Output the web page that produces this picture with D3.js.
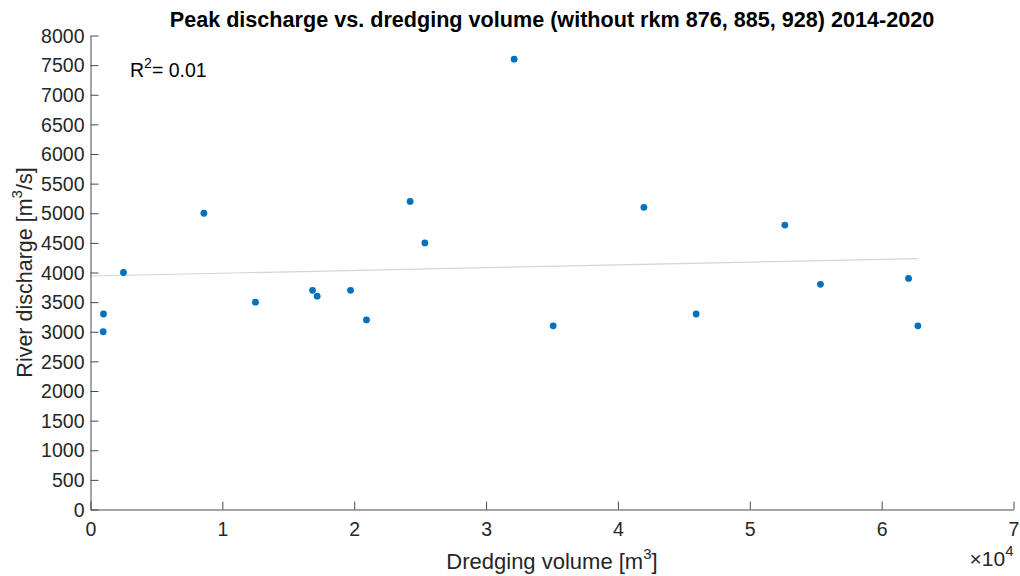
<!DOCTYPE html>
<html>
<head>
<meta charset="utf-8">
<script src="https://cdn.jsdelivr.net/npm/d3@7"></script>
<style>
  html, body { margin: 0; padding: 0; background: #fff; }
  svg { display: block; font-family: "Liberation Sans", Arial, Helvetica, sans-serif; }
</style>
</head>
<body>
<svg id="chart" width="1020" height="576"></svg>
<script>
// Dredging volume (m³) and peak river discharge (m³/s), 2014-2020
const dredgingVolume = [986, 960, 2500, 8600, 12510, 16840, 17190, 19720, 20930,
  24240, 25360, 32130, 35090, 41970, 45930, 52660, 55360, 62040, 62750];
const peakDischarge = [3300, 3000, 4000, 5000, 3500, 3700, 3600, 3700, 3200,
  5200, 4500, 7600, 3100, 5100, 3300, 4800, 3800, 3900, 3100];

const xTicks = [0, 1, 2, 3, 4, 5, 6, 7];          // ×10^4
const yTicks = d3.range(0, 8001, 500);
const rSquaredLabel = "0.01";

const titleText = "Peak discharge vs. dredging volume (without rkm 876, 885, 928) 2014-2020";

const svg = d3.select("#chart");
const plotLeft = 90.5, plotRight = 1013.5, plotTop = 35.5, plotBottom = 509.5;
const axisColor = "#4a4a4a", textColor = "#262626";

const x = d3.scaleLinear().domain([0, 70000]).range([plotLeft, plotRight]);
const y = d3.scaleLinear().domain([0, 8000]).range([plotBottom, plotTop]);

// least-squares fit of discharge against dredging volume
const mx = d3.mean(dredgingVolume), my = d3.mean(peakDischarge);
let sxy = 0, sxx = 0;
dredgingVolume.forEach((v, i) => { sxy += (v - mx) * (peakDischarge[i] - my); sxx += (v - mx) ** 2; });
const slope = sxy / sxx, intercept = my - slope * mx;
const fitX = [0, d3.max(dredgingVolume)];

svg.append("line")
  .attr("x1", x(fitX[0])).attr("y1", y(intercept + slope * fitX[0]))
  .attr("x2", x(fitX[1])).attr("y2", y(intercept + slope * fitX[1]))
  .attr("stroke", "#d4d4d4").attr("stroke-width", 1.2);

// axes: ticks point inwards, labels outside
const xAxis = d3.axisBottom(x)
  .tickValues(xTicks.map(t => t * 10000))
  .tickFormat(d => d / 10000)
  .tickSizeInner(-8).tickSizeOuter(0).tickPadding(13);
const gx = svg.append("g").attr("transform", `translate(0,${plotBottom})`).call(xAxis);

const yAxis = d3.axisLeft(y)
  .tickValues(yTicks)
  .tickFormat(d3.format("d"))
  .tickSizeInner(-8).tickSizeOuter(0).tickPadding(6);
const gy = svg.append("g").attr("transform", `translate(${plotLeft},0)`).call(yAxis);

[gx, gy].forEach(g => {
  g.select(".domain").attr("stroke", axisColor).attr("stroke-width", 1);
  g.selectAll(".tick line").attr("stroke", axisColor).attr("stroke-width", 1);
  g.selectAll(".tick text").attr("fill", textColor)
    .style("font-size", "19.5px").style("font-family", "Liberation Sans, Arial, sans-serif");
});
gy.selectAll(".tick text").attr("dy", "0.34em");

// data points
svg.append("g").selectAll("circle")
  .data(dredgingVolume.map((v, i) => [v, peakDischarge[i]]))
  .join("circle")
  .attr("cx", d => x(d[0]))
  .attr("cy", d => y(d[1]))
  .attr("r", 3.4)
  .attr("fill", "#0072BD");

// title
svg.append("text")
  .attr("x", (plotLeft + plotRight) / 2).attr("y", 27)
  .attr("text-anchor", "middle")
  .attr("fill", "#000")
  .style("font-size", "21.6px").style("font-weight", "bold")
  .text(titleText);

// x label
const xl = svg.append("text")
  .attr("x", (plotLeft + plotRight) / 2).attr("y", 569)
  .attr("text-anchor", "middle")
  .attr("fill", textColor)
  .style("font-size", "22px");
xl.append("tspan").text("Dredging volume [m");
xl.append("tspan").attr("dy", -10).style("font-size", "15px").text("3");
xl.append("tspan").attr("dy", 10).text("]");

// exponent marker for x ticks
const ex = svg.append("text")
  .attr("x", plotRight).attr("y", 566)
  .attr("text-anchor", "end")
  .attr("fill", textColor)
  .style("font-size", "21px");
ex.append("tspan").text("\u00d710");
ex.append("tspan").attr("dy", -10).style("font-size", "15px").text("4");

// y label
const yl = svg.append("text")
  .attr("transform", `translate(32,${(plotTop + plotBottom) / 2}) rotate(-90)`)
  .attr("text-anchor", "middle")
  .attr("fill", textColor)
  .style("font-size", "21.5px");
yl.append("tspan").text("River discharge [m");
yl.append("tspan").attr("dy", -10).style("font-size", "15px").text("3");
yl.append("tspan").attr("dy", 10).text("/s]");

// R² annotation
const rt = svg.append("text")
  .attr("x", 130).attr("y", 77)
  .attr("fill", "#000")
  .style("font-size", "19.5px");
rt.append("tspan").text("R");
rt.append("tspan").attr("dy", -9).style("font-size", "14px").text("2");
rt.append("tspan").attr("dy", 9).text("= " + rSquaredLabel);
</script>
</body>
</html>
